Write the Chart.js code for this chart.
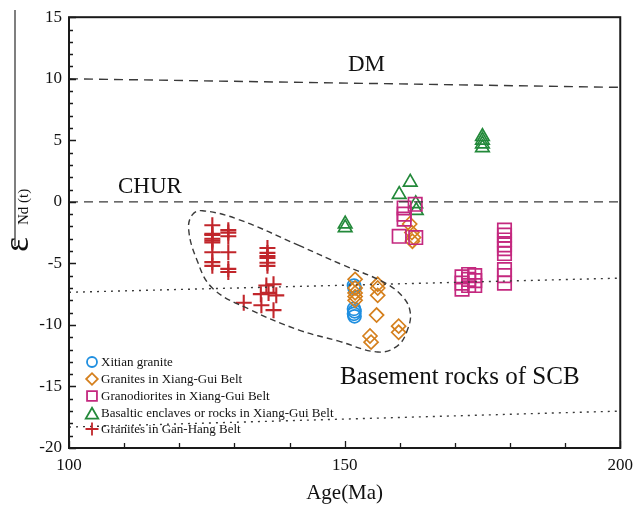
<!DOCTYPE html>
<html>
<head>
<meta charset="utf-8">
<script src="https://cdn.jsdelivr.net/npm/chart.js@4.4.0/dist/chart.umd.min.js"></script>
<style>
  html, body { margin: 0; padding: 0; background: #fff; }
</style>
</head>
<body>
<canvas id="chart" width="640" height="506"></canvas>
<script>
const SERIF = "'Liberation Serif', 'Times New Roman', serif";

// ---- data (Age Ma, eNd(t)) ----
const xitianAge = [151.7, 151.8, 151.7, 151.8, 151.7, 151.8];
const xitianNd  = [-6.8, -7.0, -8.7, -8.9, -9.1, -9.3];

const xgGraniteAge = [161.8, 162.2, 162.5, 162.3, 151.9, 151.9, 151.9, 151.9, 151.9, 156.0, 156.0, 156.0, 155.8, 154.6, 154.8, 159.8, 159.8];
const xgGraniteNd  = [-1.8, -2.5, -2.9, -3.2, -6.3, -7.0, -7.4, -7.7, -8.0, -6.7, -7.0, -7.6, -9.2, -10.9, -11.4, -10.1, -10.6];

const granodioriteAge = [160.8, 160.8, 160.8, 159.9, 162.8, 162.9, 171.3, 171.3, 171.3, 172.5, 172.5, 172.5, 173.6, 173.6, 173.6, 179.0, 179.0, 179.0, 179.0, 179.0, 179.0, 179.0, 179.0, 179.0];
const granodioriteNd  = [-0.5, -1.0, -1.4, -2.8, -0.2, -2.9, -6.1, -6.6, -7.1, -5.9, -6.3, -6.8, -6.0, -6.4, -6.8, -2.3, -2.7, -3.1, -3.5, -3.8, -4.2, -5.5, -6.0, -6.6];

const basalticAge = [150.1, 150.1, 159.9, 161.9, 162.9, 163.0, 175.0, 175.0, 175.0, 175.0];
const basalticNd  = [-1.8, -2.1, 0.6, 1.6, -0.15, -0.7, 5.3, 5.0, 4.7, 4.4];

const ganHangAge = [126.0, 126.0, 126.0, 126.0, 126.0, 126.0, 126.0, 126.0, 126.0,
                    128.9, 128.9, 128.9, 128.9, 128.9, 128.9,
                    136.0, 136.0, 136.0, 136.0, 136.0, 136.0,
                    131.7, 134.9, 137.1, 134.8, 136.2, 137.6, 135.8, 137.1];
const ganHangNd  = [-1.9, -2.6, -2.7, -3.0, -3.15, -3.3, -4.1, -4.9, -5.2,
                    -2.3, -2.5, -2.8, -4.1, -5.45, -5.7,
                    -3.75, -4.15, -4.4, -4.55, -4.95, -5.2,
                    -8.2, -8.4, -8.8, -7.5, -7.4, -7.6, -6.8, -6.7];

// reference evolution lines
const dmAge = [100, 200],   dmNd = [10, 9.3];
const churAge = [100, 200], churNd = [0, 0];
const upperAge = [100, 200], upperNd = [-7.35, -6.2];
const lowerAge = [100, 200], lowerNd = [-18.3, -17.0];

// dashed envelope around the Gan-Hang granites
const envAge = [141.6, 149.7, 156.9, 160.5, 161.9, 161.4, 159.6, 156.0, 148.8, 141.6, 132.6, 126.0, 123.1, 121.7, 122.4, 124.2, 130.8, 141.6];
const envNd  = [-3.52, -5.13, -6.49, -7.69, -8.97, -10.4, -11.7, -12.2, -11.3, -10.4, -8.7, -7.0, -4.6, -2.2, -1.04, -0.72, -1.44, -3.52];

const xTicks = [100, 150, 200];
const yTicks = [-20, -15, -10, -5, 0, 5, 10, 15];

function pts(xs, ys) {
  return xs.map((x, i) => ({ x: x, y: ys[i] }));
}

function markerSet(label, xs, ys, color, style, radius, lw) {
  return {
    label: label, data: pts(xs, ys),
    pointStyle: style, pointRadius: radius, pointHoverRadius: radius,
    borderColor: color, backgroundColor: 'rgba(0,0,0,0)', pointBorderWidth: lw || 1.7,
    showLine: false
  };
}

function lineSet(xs, ys, dash, tension) {
  return {
    data: pts(xs, ys), showLine: true, pointRadius: 0, pointHoverRadius: 0,
    borderColor: '#3a3a3a', borderWidth: 1.4, borderDash: dash,
    tension: tension || 0, fill: false
  };
}

const datasets = [
  lineSet(dmAge, dmNd, [9, 6]),
  lineSet(churAge, churNd, [9, 6]),
  lineSet(upperAge, upperNd, [2, 5]),
  lineSet(lowerAge, lowerNd, [2, 5]),
  lineSet(envAge, envNd, [6, 4], 0.4),
  markerSet('Granites in Gan-Hang Belt', ganHangAge, ganHangNd, '#c1262b', 'cross', 8, 2.1),
  markerSet('Granodiorites in Xiang-Gui Belt', granodioriteAge, granodioriteNd, '#c4287f', 'rect', 9.5),
  markerSet('Granites in Xiang-Gui Belt', xgGraniteAge, xgGraniteNd, '#d5801e', 'rectRot', 7),
  markerSet('Basaltic enclaves or rocks in Xiang-Gui Belt', basalticAge, basalticNd, '#23893a', 'triangle', 7.8),
  markerSet('Xitian granite', xitianAge, xitianNd, '#1f8fe0', 'circle', 6.5)
];

// legend order as in the figure
const legendOrder = ['Xitian granite', 'Granites in Xiang-Gui Belt', 'Granodiorites in Xiang-Gui Belt',
                     'Basaltic enclaves or rocks in Xiang-Gui Belt', 'Granites in Gan-Hang Belt'];
const legendRadius = { circle: 5, rectRot: 5.8, rect: 7, triangle: 7.2, cross: 6.5 };

const extras = {
  id: 'extras',
  afterDraw(chart) {
    const ctx = chart.ctx;
    const a = chart.chartArea;
    const xs = chart.scales.x, ys = chart.scales.y;

    ctx.save();
    // frame
    ctx.strokeStyle = '#1a1a1a';
    ctx.lineWidth = 2;
    ctx.setLineDash([]);
    ctx.strokeRect(a.left, a.top, a.right - a.left, a.bottom - a.top);

    // inner tick marks
    ctx.lineWidth = 1.3;
    ctx.beginPath();
    for (let v = 100; v <= 200; v += 10) {
      const px = Math.round(xs.getPixelForValue(v)) + 0.5;
      const len = v % 50 === 0 ? 7 : 5;
      ctx.moveTo(px, a.bottom);
      ctx.lineTo(px, a.bottom - len);
    }
    for (let v = -20; v <= 15; v += 1) {
      const py = Math.round(ys.getPixelForValue(v)) + 0.5;
      const len = v % 5 === 0 ? 7 : 4;
      ctx.moveTo(a.left, py);
      ctx.lineTo(a.left + len, py);
    }
    ctx.stroke();

    // vertical rule left of the y title
    ctx.strokeStyle = '#555';
    ctx.lineWidth = 1.5;
    ctx.beginPath();
    ctx.moveTo(15, 10);
    ctx.lineTo(15, 246);
    ctx.stroke();

    // y title: eps Nd(t)
    ctx.fillStyle = '#111';
    ctx.save();
    ctx.translate(28, 252);
    ctx.rotate(-Math.PI / 2);
    ctx.textBaseline = 'alphabetic';
    ctx.textAlign = 'left';
    ctx.font = '36px ' + SERIF;
    ctx.fillText('ε', 0, 0);
    ctx.font = '15px ' + SERIF;
    ctx.fillText('Nd (t)', 27, 0);
    ctx.restore();

    // x title
    ctx.textAlign = 'center';
    ctx.textBaseline = 'middle';
    ctx.font = '21px ' + SERIF;
    ctx.fillText('Age(Ma)', (a.left + a.right) / 2, 493);

    // annotations
    ctx.textAlign = 'left';
    ctx.textBaseline = 'alphabetic';
    ctx.font = '23px ' + SERIF;
    ctx.fillText('DM', 348, 71);
    ctx.fillText('CHUR', 118, 193);
    ctx.font = '25px ' + SERIF;
    ctx.fillText('Basement rocks of SCB', 340, 384);

    // legend
    const rowY = [362, 379, 396, 413, 429];
    ctx.font = '13px ' + SERIF;
    ctx.textBaseline = 'middle';
    legendOrder.forEach((name, i) => {
      const ds = chart.data.datasets.find(d => d.label === name);
      ctx.strokeStyle = ds.borderColor;
      ctx.fillStyle = 'rgba(0,0,0,0)';
      ctx.lineWidth = 1.8;
      Chart.helpers.drawPoint(ctx, {
        pointStyle: ds.pointStyle, radius: legendRadius[ds.pointStyle], rotation: 0, borderWidth: 1.8
      }, 92, rowY[i] + (ds.pointStyle === 'triangle' ? 2 : 0));
      ctx.fillStyle = '#111';
      ctx.fillText(name, 101, rowY[i] + 1);
    });
    ctx.restore();
  }
};

new Chart(document.getElementById('chart'), {
  type: 'scatter',
  data: { datasets: datasets },
  options: {
    responsive: false,
    animation: false,
    layout: { padding: { top: 11, right: 15, left: 0, bottom: 0 } },
    plugins: { legend: { display: false }, tooltip: { enabled: false } },
    scales: {
      x: {
        type: 'linear', min: 100, max: 200,
        afterBuildTicks: s => { s.ticks = xTicks.map(v => ({ value: v })); },
        afterFit: s => { s.height = 58; },
        ticks: { color: '#111', padding: 7, font: { family: SERIF, size: 17 } },
        grid: { display: false, drawTicks: false },
        border: { display: false }
      },
      y: {
        type: 'linear', min: -20, max: 15,
        afterBuildTicks: s => { s.ticks = yTicks.map(v => ({ value: v })); },
        afterFit: s => { s.width = 69; },
        ticks: { color: '#111', padding: 7, font: { family: SERIF, size: 17 } },
        grid: { display: false, drawTicks: false },
        border: { display: false }
      }
    }
  },
  plugins: [extras]
});
</script>
</body>
</html>
